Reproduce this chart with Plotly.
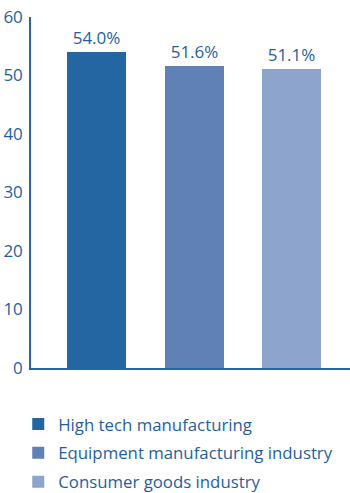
import plotly.graph_objects as go

categories = ["High tech manufacturing", "Equipment manufacturing industry", "Consumer goods industry"]
values = [54.0, 51.6, 51.1]
labels = ["54.0%", "51.6%", "51.1%"]
colors = ["#2466a2", "#5f81b6", "#8da5cc"]
y_ticks = [0, 10, 20, 30, 40, 50, 60]

text_color = "#1f5f9f"
font_family = "Open Sans, Noto Sans, sans-serif"

fig = go.Figure()
for i, (c, v, l, col) in enumerate(zip(categories, values, labels, colors)):
    fig.add_trace(go.Bar(
        x=[c], y=[v], name=c, marker_color=col, marker_line_width=0,
        text=[l], textposition="outside", cliponaxis=False,
        textfont=dict(color=text_color, size=17, family=font_family),
        width=0.605, legendgroup=str(i),
    ))

fig.update_layout(
    width=350, height=493,
    margin=dict(l=31, r=0, t=17, b=125, autoexpand=False),
    plot_bgcolor="white", paper_bgcolor="white",
    showlegend=True,
    legend=dict(
        x=-0.04, y=-0.11, xanchor="left", yanchor="top",
        font=dict(color=text_color, size=16.8, family=font_family),
        traceorder="grouped", tracegroupgap=4, itemsizing="constant",
    ),
    xaxis=dict(
        type="category", categoryorder="array", categoryarray=categories,
        range=[-0.672, 2.6], showticklabels=False, ticks="",
        showline=True, linecolor="#2466a2", linewidth=1.5, showgrid=False,
        zeroline=False,
    ),
    yaxis=dict(
        range=[0, 60], tickvals=y_ticks, ticks="", showgrid=False,
        showline=True, linecolor="#2466a2", linewidth=1.5, zeroline=False,
        tickfont=dict(color=text_color, size=17, family=font_family),
        ticklabelstandoff=3,
    ),
    bargap=0,
)

fig.write_html("out.html")
